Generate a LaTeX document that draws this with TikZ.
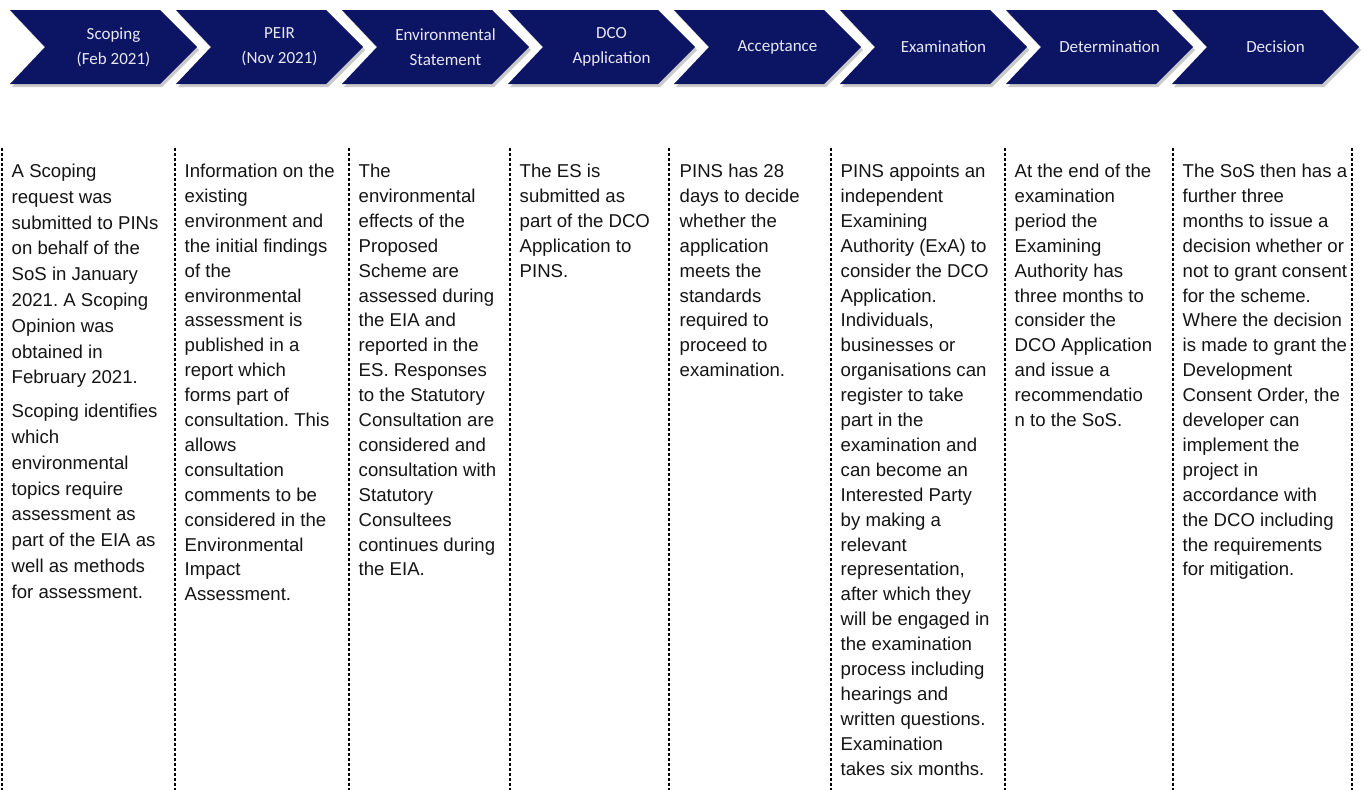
\documentclass[tikz,border=0pt]{standalone}
\usepackage{fontspec}
\setmainfont{Liberation Sans}
\newfontfamily\chevfont{Carlito}
\usetikzlibrary{shadows}
\frenchspacing
\definecolor{navy}{RGB}{12,20,100}
\definecolor{chevtext}{RGB}{232,232,242}
\definecolor{bodytext}{RGB}{20,20,20}
\tikzset{
  chevshape/.style={fill=navy, drop shadow={shadow xshift=2pt, shadow yshift=-3pt, opacity=0.35, fill=black!60}},
  chevlabel/.style={text=chevtext, align=center, inner sep=0pt, font={\chevfont\fontsize{17}{25}\selectfont}},
  sepline/.style={draw=black, line width=1.5pt, dash pattern=on 3pt off 2pt},
  coltext/.style={anchor=base west, inner sep=0pt, text=bodytext, font={\fontsize{18.6}{24.9}\selectfont\frenchspacing}}
}
\newcommand{\colbox}[1]{\parbox[t]{200pt}{\raggedright\frenchspacing #1}}
\begin{document}
\begin{tikzpicture}[x=1pt,y=-1pt]
\useasboundingbox (0,0) rectangle (1367,790);
% chevrons
\foreach \i/\lab in {0/{Scoping\\(Feb 2021)},1/{PEIR\\(Nov 2021)},2/{Environmental\\Statement},3/{DCO\\Application},4/{Acceptance},5/{Examination},6/{Determination},7/{Decision}}{
  \pgfmathsetmacro{\xo}{10+166*\i}
  \fill[chevshape] (\xo,10) -- (\xo+150,10) -- (\xo+187,47) -- (\xo+150,84) -- (\xo,84) -- (\xo+35,47) -- cycle;
  \node[chevlabel] (chev\i) at (\xo+103.5,47) {\lab};
}
% separators
\foreach \x in {2,175,349,510,669,831,1005,1173,1352}{
  \draw[sepline] (\x,148) -- (\x,790);
}
% columns
\node[coltext, font={\fontsize{18.6}{25.8}\selectfont}] (c1) at (11.5,177.5) {\colbox{A Scoping\\request was\\submitted to PINs\\on behalf of the\\SoS in January\\2021. A Scoping\\Opinion was\\obtained in\\February 2021.\par\vspace{8pt}Scoping identifies\\which\\environmental\\topics require\\assessment as\\part of the EIA as\\well as methods\\for assessment.}};
\node[coltext] (c2) at (184.5,177.5) {\colbox{Information on the\\existing\\environment and\\the initial findings\\of the\\environmental\\assessment is\\published in a\\report which\\forms part of\\consultation. This\\allows\\consultation\\comments to be\\considered in the\\Environmental\\Impact\\Assessment.}};
\node[coltext] (c3) at (358.5,177.5) {\colbox{The\\environmental\\effects of the\\Proposed\\Scheme are\\assessed during\\the EIA and\\reported in the\\ES. Responses\\to the Statutory\\Consultation are\\considered and\\consultation with\\Statutory\\Consultees\\continues during\\the EIA.}};
\node[coltext] (c4) at (519.5,177.5) {\colbox{The ES is\\submitted as\\part of the DCO\\Application to\\PINS.}};
\node[coltext] (c5) at (679.5,177.5) {\colbox{PINS has 28\\days to decide\\whether the\\application\\meets the\\standards\\required to\\proceed to\\examination.}};
\node[coltext] (c6) at (840.5,177.5) {\colbox{PINS appoints an\\independent\\Examining\\Authority (ExA) to\\consider the DCO\\Application.\\Individuals,\\businesses or\\organisations can\\register to take\\part in the\\examination and\\can become an\\Interested Party\\by making a\\relevant\\representation,\\after which they\\will be engaged in\\the examination\\process including\\hearings and\\written questions.\\Examination\\takes six months.}};
\node[coltext] (c7) at (1014.5,177.5) {\colbox{At the end of the\\examination\\period the\\Examining\\Authority has\\three months to\\consider the\\DCO Application\\and issue a\\recommendatio\\n to the SoS.}};
\node[coltext] (c8) at (1182.5,177.5) {\colbox{The SoS then has a\\further three\\months to issue a\\decision whether or\\not to grant consent\\for the scheme.\\Where the decision\\is made to grant the\\Development\\Consent Order, the\\developer can\\implement the\\project in\\accordance with\\the DCO including\\the requirements\\for mitigation.}};
\end{tikzpicture}
\end{document}
